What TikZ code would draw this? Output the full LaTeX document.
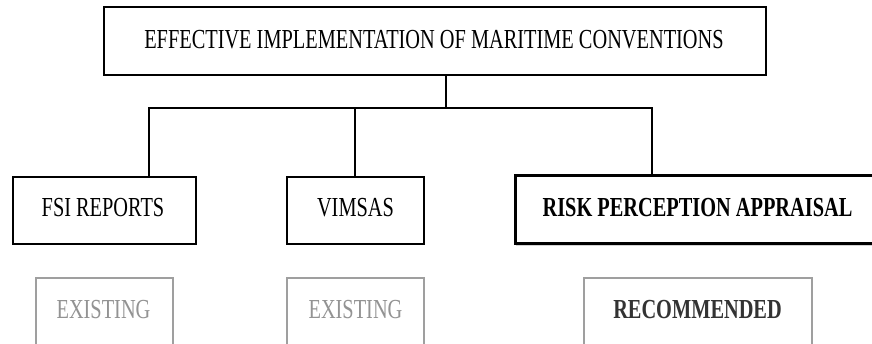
\documentclass[tikz,border=0pt]{standalone}
\usepackage{fontspec}
\setmainfont[FakeStretch=0.74]{Liberation Serif}
\usetikzlibrary{shadows}
\begin{document}
\begin{tikzpicture}[x=1pt,y=-1pt,
  every node/.style={inner sep=0pt, font=\fontsize{27.5}{30}\selectfont},
  mainbox/.style={draw=black, line width=1.4pt, fill=white},
  keybox/.style={draw=black, line width=3pt, fill=white, drop shadow={shadow xshift=1pt, shadow yshift=-2pt, opacity=0.35}},
  statbox/.style={draw=gray!75, line width=1.2pt, fill=white},
  link/.style={draw=black, line width=1.4pt}]
\useasboundingbox (0,0) rectangle (872,344);
\clip (0,0) rectangle (872,344);
% top
\node[mainbox, minimum width=662pt, minimum height=68pt] (top) at (435,41) {};
\node (toptext) at (434,40) {EFFECTIVE IMPLEMENTATION OF MARITIME CONVENTIONS};
% second row
\node[mainbox, minimum width=183pt, minimum height=67pt] (fsi) at (104.5,210.5) {};
\node at (103,208) {FSI REPORTS};
\node[mainbox, minimum width=137pt, minimum height=67pt] (vim) at (355.5,210.5) {};
\node at (355.5,208) {VIMSAS};
\node[keybox, minimum width=365pt, minimum height=68pt] (risk) at (697.5,210) {};
\node at (697.5,208) {\bfseries RISK PERCEPTION APPRAISAL};
% third row
\node[statbox, minimum width=137pt, minimum height=70pt] (ex1) at (104.5,313) {};
\node[text=gray!85] at (103.5,310) {EXISTING};
\node[statbox, minimum width=137pt, minimum height=70pt] (ex2) at (355.5,313) {};
\node[text=gray!85] at (355.5,310) {EXISTING};
\node[statbox, minimum width=228pt, minimum height=70pt] (rec) at (698,313) {};
\node[text=black!80] at (697.5,310) {\bfseries RECOMMENDED};
% connectors
\coordinate (j) at (446,108);
\coordinate (jl) at (149,108);
\coordinate (jm) at (355,108);
\coordinate (jr) at (652,108);
\draw[link] (top.south -| j) -- (j);
\draw[link] ([xshift=-0.7pt]jl) -- ([xshift=0.7pt]jr);
\draw[link] (jl) -- (jl |- fsi.north);
\draw[link] (jm) -- (jm |- vim.north);
\draw[link] (jr) -- (jr |- risk.north);
\end{tikzpicture}
\end{document}
